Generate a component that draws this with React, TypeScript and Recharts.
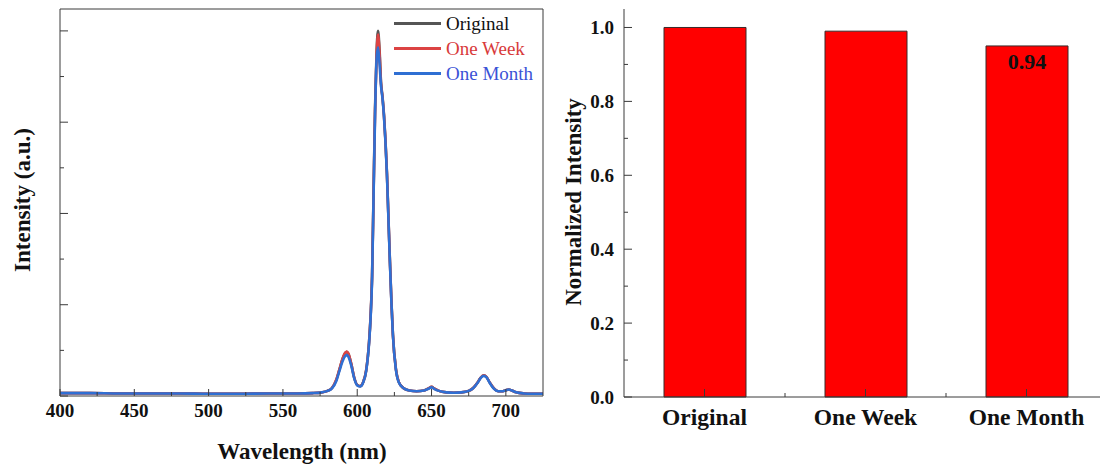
import { LineChart, Line, XAxis, YAxis, BarChart, Bar, LabelList } from "recharts";

const SERIF = '"Liberation Serif", "Times New Roman", serif';
const AXIS = "#3a3a3a";

// emission spectra (normalised to the original peak)
const wavelengths = [
  400, 420, 440, 460, 480, 500, 520, 540, 560, 570,
  576, 580, 583, 586, 588, 590, 592, 593, 594, 596,
  598, 600, 602, 604, 606, 608, 609, 610, 611, 612,
  613, 614, 615, 616, 617, 618, 619, 620, 621, 622,
  623, 624, 626, 628, 631, 635, 640, 645, 648, 650,
  652, 655, 660, 665, 670, 675, 678, 681, 683, 685,
  687, 689, 692, 695, 698, 700, 702, 704, 707, 712,
  718, 725,
];
const original = [
  0.008, 0.008, 0.007, 0.007, 0.007, 0.006, 0.006, 0.007, 0.007, 0.008,
  0.010, 0.014, 0.022, 0.045, 0.072, 0.100, 0.118, 0.121, 0.116, 0.088,
  0.050, 0.030, 0.027, 0.038, 0.070, 0.150, 0.220, 0.330, 0.560, 0.790,
  0.940, 1.000, 0.950, 0.860, 0.820, 0.770, 0.700, 0.610, 0.490, 0.370,
  0.260, 0.170, 0.075, 0.038, 0.022, 0.015, 0.013, 0.015, 0.021, 0.025,
  0.020, 0.014, 0.010, 0.009, 0.010, 0.014, 0.022, 0.037, 0.050, 0.057,
  0.052, 0.038, 0.021, 0.013, 0.013, 0.016, 0.018, 0.015, 0.010, 0.007,
  0.006, 0.006,
];
const oneWeek = [
  0.008, 0.008, 0.007, 0.007, 0.007, 0.006, 0.006, 0.007, 0.007, 0.008,
  0.010, 0.014, 0.022, 0.046, 0.073, 0.101, 0.119, 0.122, 0.117, 0.088,
  0.050, 0.030, 0.027, 0.038, 0.070, 0.150, 0.218, 0.328, 0.555, 0.780,
  0.930, 0.990, 0.940, 0.855, 0.818, 0.768, 0.698, 0.608, 0.488, 0.368,
  0.258, 0.168, 0.074, 0.038, 0.022, 0.015, 0.013, 0.015, 0.021, 0.025,
  0.020, 0.014, 0.010, 0.009, 0.010, 0.014, 0.022, 0.037, 0.050, 0.057,
  0.052, 0.038, 0.021, 0.013, 0.013, 0.016, 0.018, 0.015, 0.010, 0.007,
  0.006, 0.006,
];
const oneMonth = [
  0.008, 0.008, 0.007, 0.007, 0.007, 0.006, 0.006, 0.007, 0.007, 0.008,
  0.010, 0.014, 0.021, 0.042, 0.068, 0.094, 0.110, 0.112, 0.108, 0.083,
  0.048, 0.029, 0.026, 0.037, 0.068, 0.146, 0.214, 0.322, 0.550, 0.770,
  0.920, 0.955, 0.910, 0.850, 0.815, 0.765, 0.695, 0.605, 0.485, 0.365,
  0.256, 0.167, 0.073, 0.037, 0.022, 0.015, 0.013, 0.015, 0.020, 0.024,
  0.019, 0.014, 0.010, 0.009, 0.010, 0.014, 0.021, 0.036, 0.049, 0.055,
  0.051, 0.037, 0.020, 0.013, 0.013, 0.016, 0.018, 0.015, 0.010, 0.007,
  0.006, 0.006,
];

const seriesNames = ["Original", "One Week", "One Month"];
const seriesKeys = ["original", "oneWeek", "oneMonth"];
const lineColors = ["#555555", "#dc4343", "#2f6fd3"];
const legendColors = ["#111111", "#d83a3a", "#3a52d6"];

const waveTicks = [400, 425, 450, 475, 500, 525, 550, 575, 600, 625, 650, 675, 700];
const intensityTicks = [0, 0.125, 0.25, 0.375, 0.5, 0.625, 0.75, 0.875, 1.0];

// bar chart: normalised peak intensity
const samples = ["Original", "One Week", "One Month"];
const normalized = [1.0, 0.99, 0.95];
const barLabels = ["", "", "0.94"];
const normTicks = [0, 0.1, 0.2, 0.3, 0.4, 0.5, 0.6, 0.7, 0.8, 0.9, 1.0];

const spectrum = wavelengths.map((wl, i) => ({
  wl,
  original: original[i],
  oneWeek: oneWeek[i],
  oneMonth: oneMonth[i],
}));

const bars = samples.map((name, i) => ({
  name,
  value: normalized[i],
  label: barLabels[i],
}));

function WaveTick({ x, y, payload }: any) {
  const major = payload.value % 50 === 0;
  return (
    <g>
      <line x1={x} x2={x} y1={y} y2={y - (major ? 7 : 4)} stroke={AXIS} />
      {major && (
        <text
          x={x}
          y={y + 21}
          textAnchor="middle"
          fontFamily={SERIF}
          fontWeight="bold"
          fontSize={19}
          fill="#111"
        >
          {payload.value}
        </text>
      )}
    </g>
  );
}

function IntensityTick({ x, y, payload }: any) {
  const major = Math.round(payload.value * 8) % 2 === 0;
  return <line x1={x} x2={x + (major ? 8 : 4)} y1={y} y2={y} stroke={AXIS} />;
}

function NormTick({ x, y, payload }: any) {
  const major = Math.round(payload.value * 10) % 2 === 0;
  return (
    <g>
      <line x1={x} x2={x + (major ? 8 : 4)} y1={y} y2={y} stroke={AXIS} />
      {major && (
        <text
          x={x - 10}
          y={y}
          dy="0.35em"
          textAnchor="end"
          fontFamily={SERIF}
          fontWeight="bold"
          fontSize={19}
          fill="#111"
        >
          {payload.value.toFixed(1)}
        </text>
      )}
    </g>
  );
}

function SampleTick({ x, y, payload }: any) {
  const half = payload.offset ?? 80;
  return (
    <g>
      <line x1={x} x2={x} y1={y} y2={y - 8} stroke={AXIS} />
      <line x1={x + half} x2={x + half} y1={y} y2={y - 4} stroke={AXIS} />
      <text
        x={x}
        y={y + 28}
        textAnchor="middle"
        fontFamily={SERIF}
        fontWeight="bold"
        fontSize={23.5}
        fill="#111"
      >
        {payload.value}
      </text>
    </g>
  );
}

const titleStyle: React.CSSProperties = {
  position: "absolute",
  fontFamily: SERIF,
  fontWeight: "bold",
  fontSize: 23,
  lineHeight: 1,
  whiteSpace: "nowrap",
  color: "#111",
};

export default function App() {
  return (
    <div
      style={{
        position: "absolute",
        left: 0,
        top: 0,
        width: 1100,
        height: 466,
        overflow: "hidden",
        background: "#fff",
      }}
    >
      <div style={{ position: "absolute", left: 0, top: 0 }}>
        <LineChart
          width={560}
          height={466}
          data={spectrum}
          margin={{ top: 0, right: 0, bottom: 0, left: 0 }}
        >
          <XAxis
            dataKey="wl"
            type="number"
            domain={[400, 725]}
            ticks={waveTicks}
            interval={0}
            height={70}
            tickSize={0}
            tickMargin={0}
            tickLine={false}
            axisLine={{ stroke: AXIS }}
            tick={<WaveTick />}
          />
          <XAxis
            xAxisId="top"
            orientation="top"
            dataKey="wl"
            type="number"
            domain={[400, 725]}
            height={9}
            tick={false}
            tickLine={false}
            axisLine={{ stroke: AXIS }}
          />
          <YAxis
            type="number"
            domain={[0, 1.06]}
            ticks={intensityTicks}
            interval={0}
            width={60}
            tickSize={0}
            tickMargin={0}
            tickLine={false}
            axisLine={{ stroke: AXIS }}
            tick={<IntensityTick />}
          />
          <YAxis
            yAxisId="right"
            orientation="right"
            type="number"
            domain={[0, 1.06]}
            width={17}
            tick={false}
            tickLine={false}
            axisLine={{ stroke: AXIS }}
          />
          {seriesKeys.map((key, i) => (
            <Line
              key={key}
              type="monotone"
              dataKey={key}
              name={seriesNames[i]}
              stroke={lineColors[i]}
              strokeWidth={2.6}
              dot={false}
              isAnimationActive={false}
            />
          ))}
        </LineChart>
      </div>

      {/* legend of the spectra */}
      <div style={{ position: "absolute", left: 394, top: 11, fontFamily: SERIF, fontSize: 19 }}>
        {seriesNames.map((name, i) => (
          <div key={name} style={{ display: "flex", alignItems: "center", height: 25 }}>
            <span
              style={{ width: 47, height: 3, background: lineColors[i], marginRight: 5, display: "inline-block" }}
            />
            <span style={{ color: legendColors[i], lineHeight: 1 }}>{name}</span>
          </div>
        ))}
      </div>

      <div style={{ ...titleStyle, left: 22, top: 200, transform: "translate(-50%, -50%) rotate(-90deg)" }}>
        Intensity (a.u.)
      </div>
      <div style={{ ...titleStyle, left: 302, top: 451, transform: "translate(-50%, -50%)" }}>
        Wavelength (nm)
      </div>

      <div style={{ position: "absolute", left: 560, top: 0 }}>
        <BarChart
          width={560}
          height={466}
          data={bars}
          margin={{ top: 9, right: 13, bottom: 0, left: 0 }}
        >
          <YAxis
            type="number"
            domain={[0, 1.05]}
            ticks={normTicks}
            interval={0}
            width={64}
            tickSize={0}
            tickMargin={0}
            tickLine={false}
            axisLine={{ stroke: AXIS }}
            tick={<NormTick />}
          />
          <Bar
            dataKey="value"
            fill="#ff0000"
            stroke="#3a2a2a"
            strokeWidth={1}
            barSize={82}
            isAnimationActive={false}
          >
            <LabelList
              dataKey="label"
              position="insideTop"
              offset={7}
              fill="#111"
              fontFamily={SERIF}
              fontWeight="bold"
              fontSize={22}
            />
          </Bar>
          <XAxis
            dataKey="name"
            height={69}
            interval={0}
            tickSize={0}
            tickMargin={0}
            tickLine={false}
            axisLine={{ stroke: AXIS }}
            tick={<SampleTick />}
          />
        </BarChart>
      </div>

      <div style={{ ...titleStyle, left: 573, top: 202, transform: "translate(-50%, -50%) rotate(-90deg)" }}>
        Normalized Intensity
      </div>
    </div>
  );
}
